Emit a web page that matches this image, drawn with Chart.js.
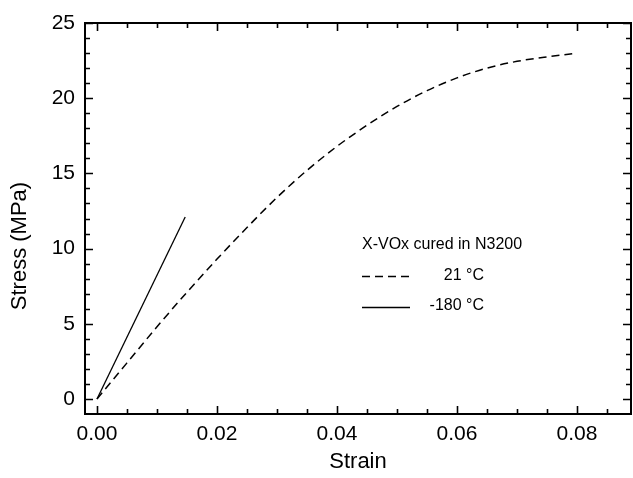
<!DOCTYPE html>
<html>
<head>
<meta charset="utf-8">
<script src="https://cdn.jsdelivr.net/npm/chart.js@4/dist/chart.umd.min.js"></script>
<style>
	html, body { margin: 0; padding: 0; background: #fff; }
</style>
</head>
<body>
<canvas id="myChart" width="633" height="478"></canvas>
<script>
const strainRoom = [0, 0.005, 0.01, 0.015, 0.02, 0.025, 0.03, 0.035, 0.04, 0.045, 0.05, 0.055, 0.06, 0.065, 0.07, 0.075, 0.0792];
const stressRoom = [0, 2.4, 4.8, 7.1, 9.3, 11.4, 13.4, 15.2, 16.8, 18.2, 19.45, 20.5, 21.35, 22.0, 22.45, 22.75, 22.95];
const strainCold = [0, 0.0147];
const stressCold = [0, 12.1];
const xTicks = [0, 0.02, 0.04, 0.06, 0.08];
const yTicks = [0, 5, 10, 15, 20, 25];
const legendTitle = "X-VOx cured in N3200";
const seriesLabels = ["21 \u00B0C", "-180 \u00B0C"];

const FONT = "'Liberation Sans', Arial, sans-serif";

function toPoints(xs, ys) {
	return xs.map((x, i) => ({ x: x, y: ys[i] }));
}

// frame, inward ticks on all sides, axis titles and the legend box
const framePlugin = {
	id: "frame",
	afterDraw(chart) {
		const { ctx, chartArea: a, scales } = chart;
		const x = scales.x;
		const y = scales.y;
		ctx.save();
		ctx.strokeStyle = "#000";
		ctx.lineWidth = 2;
		ctx.strokeRect(a.left, a.top, a.right - a.left, a.bottom - a.top);

		ctx.lineWidth = 1.6;
		ctx.beginPath();
		for (let i = 0; i * 0.005 <= x.max; i++) {
			const px = Math.round(x.getPixelForValue(i * 0.005)) + 0.5;
			const len = i % 4 === 0 ? 8 : 5;
			ctx.moveTo(px, a.bottom);
			ctx.lineTo(px, a.bottom - len);
			ctx.moveTo(px, a.top);
			ctx.lineTo(px, a.top + len);
		}
		for (let i = 0; i <= y.max; i++) {
			const py = Math.round(y.getPixelForValue(i)) + 0.5;
			const len = i % 5 === 0 ? 8 : 5;
			ctx.moveTo(a.left, py);
			ctx.lineTo(a.left + len, py);
			ctx.moveTo(a.right, py);
			ctx.lineTo(a.right - len, py);
		}
		ctx.stroke();

		// axis titles
		ctx.fillStyle = "#000";
		ctx.font = "22px " + FONT;
		ctx.textAlign = "center";
		ctx.textBaseline = "middle";
		ctx.fillText("Strain", (a.left + a.right) / 2, 462);
		ctx.save();
		ctx.translate(20, 246);
		ctx.rotate(-Math.PI / 2);
		ctx.fillText("Stress (MPa)", 0, 0);
		ctx.restore();

		// legend
		ctx.font = "16px " + FONT;
		ctx.textAlign = "left";
		ctx.fillText(legendTitle, 362, 245);
		ctx.textAlign = "right";
		ctx.fillText(seriesLabels[0], 484, 276);
		ctx.fillText(seriesLabels[1], 484, 306);
		ctx.lineWidth = 1.4;
		ctx.setLineDash([8, 5]);
		ctx.beginPath();
		ctx.moveTo(362, 276.5);
		ctx.lineTo(410, 276.5);
		ctx.stroke();
		ctx.setLineDash([]);
		ctx.beginPath();
		ctx.moveTo(362, 307.5);
		ctx.lineTo(410, 307.5);
		ctx.stroke();
		ctx.restore();
	},
};

const ctx = document.getElementById("myChart").getContext("2d");

new Chart(ctx, {
	type: "scatter",
	data: {
		datasets: [
			{
				label: seriesLabels[0],
				data: toPoints(strainRoom, stressRoom),
				showLine: true,
				borderColor: "#000",
				borderWidth: 1.5,
				borderDash: [8, 5],
				pointRadius: 0,
				cubicInterpolationMode: "monotone",
			},
			{
				label: seriesLabels[1],
				data: toPoints(strainCold, stressCold),
				showLine: true,
				borderColor: "#000",
				borderWidth: 1.3,
				pointRadius: 0,
			},
		],
	},
	options: {
		responsive: false,
		animation: false,
		devicePixelRatio: 1,
		layout: { padding: { top: 23, right: 2, left: 0, bottom: 0 } },
		plugins: {
			legend: { display: false },
			tooltip: { enabled: false },
		},
		scales: {
			x: {
				type: "linear",
				min: -0.002,
				max: 0.089,
				afterBuildTicks: (s) => { s.ticks = xTicks.map((v) => ({ value: v })); },
				afterFit: (s) => { s.height = 64; },
				grid: { display: false, drawTicks: false },
				border: { display: false },
				ticks: {
					color: "#000",
					font: { size: 21, family: FONT },
					padding: 8,
					maxRotation: 0,
					autoSkip: false,
					callback: (v) => v.toFixed(2),
				},
			},
			y: {
				type: "linear",
				min: -1,
				max: 25,
				afterBuildTicks: (s) => { s.ticks = yTicks.map((v) => ({ value: v })); },
				afterFit: (s) => { s.width = 85; },
				grid: { display: false, drawTicks: false },
				border: { display: false },
				ticks: {
					color: "#000",
					font: { size: 21, family: FONT },
					padding: 10,
					autoSkip: false,
					callback: (v) => String(v),
				},
			},
		},
	},
	plugins: [framePlugin],
});
</script>
</body>
</html>
